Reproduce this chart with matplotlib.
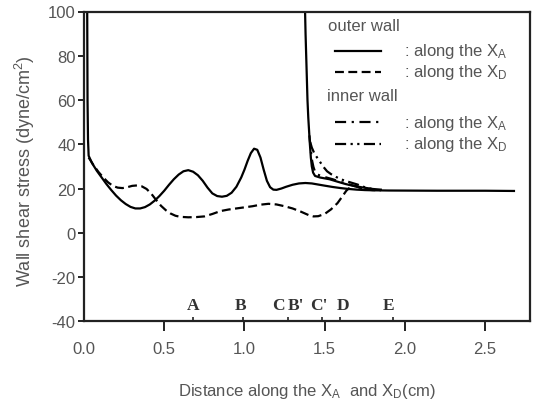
import matplotlib
matplotlib.use("Agg")
import matplotlib.pyplot as plt
from matplotlib.lines import Line2D

# ---------------- data ----------------
# outer wall, along X_A (solid)
outer_xa_x = [0.020, 0.022, 0.025, 0.029, 0.05, 0.08, 0.11, 0.14, 0.17, 0.2, 0.23, 0.26, 0.29,
              0.32, 0.35, 0.38, 0.41, 0.44, 0.47, 0.5, 0.53, 0.56, 0.59, 0.62, 0.65, 0.68,
              0.71, 0.74, 0.77, 0.8, 0.83, 0.86, 0.89, 0.92, 0.95, 0.98, 1.0, 1.02, 1.04,
              1.06, 1.08, 1.10, 1.12, 1.14, 1.16, 1.18, 1.2, 1.23, 1.26, 1.3, 1.34, 1.38,
              1.42, 1.46, 1.5, 1.55, 1.6, 1.65, 1.7, 1.75, 1.8, 1.9, 2.2, 2.5, 2.68]
outer_xa_y = [100, 60, 42, 34.8, 31.5, 28, 25, 22, 19.3, 16.8, 14.7, 13, 11.7,
              11, 11, 11.6, 12.8, 14.5, 16.6, 19, 21.7, 24.2, 26.3, 27.8, 28.3, 27.6,
              26, 23.5, 20.4, 17.8, 16.6, 16.3, 16.7, 18.1, 20.8, 25, 28.5, 32.5, 36,
              38, 37.5, 34, 28.5, 23.5, 20.6, 19.5, 19.4, 20, 20.8, 21.7, 22.3, 22.5,
              22.3, 21.8, 21.3, 20.7, 20.2, 19.8, 19.5, 19.3, 19.2, 19.1, 19.0, 19.0, 18.9]

# outer wall, along X_D (dashed)
outer_xd_x = [0.029, 0.06, 0.09, 0.12, 0.15, 0.18, 0.21, 0.24, 0.27, 0.3, 0.33, 0.36, 0.39,
              0.42, 0.45, 0.48, 0.51, 0.54, 0.57, 0.6, 0.65, 0.7, 0.75, 0.8, 0.85, 0.9,
              0.95, 1.0, 1.05, 1.1, 1.15, 1.2, 1.25, 1.3, 1.35, 1.4, 1.43, 1.46, 1.5,
              1.54, 1.58, 1.61, 1.635, 1.66, 1.69, 1.72, 1.76, 1.8, 1.85]
outer_xd_y = [34, 30.5, 27.5, 25, 22.8, 21.2, 20.4, 20.2, 20.6, 21.2, 21.4, 21, 19.8,
              17.6, 14.8, 12.2, 10.2, 8.7, 7.7, 7.2, 7, 7.1, 7.4, 8.5, 9.8, 10.5,
              11, 11.5, 12, 12.7, 13.1, 12.8, 12, 11, 9.6, 8, 7.4, 7.5, 8.5,
              10.6, 13.4, 16.4, 19, 20.6, 21.2, 20.3, 19.5, 19.3, 19.2]

# spike of the solid curve at the flow divider
apex_x = [1.378, 1.381, 1.385, 1.389, 1.393, 1.398, 1.403, 1.408, 1.414, 1.42, 1.428,
          1.44, 1.47, 1.53, 1.58, 1.632, 1.68, 1.736, 1.8, 1.85]
apex_y = [100, 90, 80, 70, 60, 52, 46, 40, 34, 30, 27.2,
          25.7, 25, 24.2, 23.1, 22.0, 21.2, 20.5, 19.8, 19.5]

# inner wall, along X_A (dash-dot)
inner_xa_x = [1.405, 1.41, 1.415, 1.422, 1.43, 1.44, 1.455, 1.5, 1.55, 1.6, 1.65, 1.705,
              1.75, 1.8]
inner_xa_y = [44, 40, 36.3, 32.5, 29.8, 27.6, 26.3, 25.2, 24.2, 23, 21.9, 20.8, 20, 19.5]

# inner wall, along X_D (dash-dot-dot)
inner_xd_x = [1.41, 1.42, 1.435, 1.45, 1.467, 1.49, 1.515, 1.54, 1.57, 1.6, 1.65, 1.705,
              1.75, 1.8]
inner_xd_y = [41, 38.5, 36, 34.3, 32.5, 30, 27.8, 26.5, 25.3, 24.2, 23, 21.8, 20.6, 19.7]

# section markers
marker_labels = ["A", "B", "C", "B'", "C'", "D", "E"]
marker_label_x = [0.681, 0.975, 1.212, 1.322, 1.467, 1.612, 1.901]
marker_tick_x = [0.681, 0.991, 1.27, 1.484, 1.597, 1.926]

x_ticks = [0.0, 0.5, 1.0, 1.5, 2.0, 2.5]
x_ticklabels = ["0.0", "0.5", "1.0", "1.5", "2.0", "2.5"]
y_ticks = [-40, -20, 0, 20, 40, 60, 80, 100]
y_ticklabels = ["-40", "-20", "0", "20", "40", "60", "80", "100"]

legend_header = ["outer wall", "inner wall"]
legend_labels = [": along the $\\mathregular{X_A}$", ": along the $\\mathregular{X_D}$",
                 ": along the $\\mathregular{X_A}$", ": along the $\\mathregular{X_D}$"]

# ---------------- styling ----------------
plt.rcParams['font.family'] = ['Liberation Sans', 'DejaVu Sans']
TXT = '#555555'
LW = 1.6
ls_solid = '-'
ls_dash = (0, (4, 2))
ls_dashdot = (0, (5, 2.5, 1, 2.5))
ls_dashdotdot = (0, (5, 2, 1, 2, 1, 2))

fig = plt.figure(figsize=(5.34, 4.06), dpi=100)
W, H = 534, 406
ax = fig.add_axes([84 / W, 1 - 322.3 / H, (530 - 84) / W, (322.3 - 12.5) / H])

ax.plot(outer_xa_x, outer_xa_y, color='black', lw=LW, ls=ls_solid)
ax.plot(apex_x, apex_y, color='black', lw=LW, ls=ls_solid)
ax.plot(outer_xd_x, outer_xd_y, color='black', lw=LW, ls=ls_dash)
ax.plot(inner_xa_x, inner_xa_y, color='black', lw=LW, ls=ls_dashdot)
ax.plot(inner_xd_x, inner_xd_y, color='black', lw=LW, ls=ls_dashdotdot)

ax.set_xlim(0.0, 2.78)
ax.set_ylim(-40, 100)

for s in ax.spines.values():
    s.set_linewidth(1.6)
    s.set_color('#222222')

ax.set_xticks(x_ticks)
ax.set_xticklabels(x_ticklabels)
ax.set_yticks(y_ticks)
ax.set_yticklabels(y_ticklabels)
ax.tick_params(axis='x', direction='out', length=7, width=1.4, pad=7,
               labelsize=12, labelcolor=TXT, color='#222222')
ax.tick_params(axis='y', direction='out', length=4, width=1.4, pad=2,
               labelsize=12, labelcolor=TXT, color='#222222')
ax.xaxis.get_major_ticks()[0].tick1line.set_visible(False)

ax.set_xticks(marker_tick_x, minor=True)
ax.tick_params(axis='x', which='minor', direction='in', length=3, width=1.2,
               color='#222222')

for lab, xv in zip(marker_labels, marker_label_x):
    ax.text(xv, -32.5, lab, ha='center', va='center', fontsize=12.5,
            family='Liberation Serif', fontweight='bold', color='#333333')

ax.set_xlabel("Distance along the $\\mathregular{X_A}$  and $\\mathregular{X_D}$(cm)",
              fontsize=12, color=TXT, labelpad=18)
ax.set_ylabel("Wall shear stress (dyne/cm$\\mathregular{^2}$)", fontsize=13,
              color=TXT)
ax.yaxis.set_label_coords(-0.105, 0.487)

# ---------------- legend drawn as text block ----------------
def ax_pt(px, py):
    return ((px - 84) / 446, (322.3 - py) / 309.8)

hx, hy = ax_pt(328.3, 26.7)
ax.text(hx, hy, legend_header[0], transform=ax.transAxes, fontsize=12,
        color=TXT, va='center', ha='left')
hx, hy = ax_pt(326.7, 96.7)
ax.text(hx, hy, legend_header[1], transform=ax.transAxes, fontsize=12,
        color=TXT, va='center', ha='left')

rows_y = [51.7, 72.7, 123.3, 145.0]
row_styles = [ls_solid, ls_dash, ls_dashdot, ls_dashdotdot]
for py, ls, lab in zip(rows_y, row_styles, legend_labels):
    x0, yy = ax_pt(335, py)
    x1, _ = ax_pt(381, py)
    ax.add_line(Line2D([x0, x1], [yy, yy], transform=ax.transAxes,
                       color='black', lw=LW, ls=ls))
    tx, _ = ax_pt(404, py)
    ax.text(tx, yy, lab, transform=ax.transAxes, fontsize=12, color=TXT,
            va='center', ha='left')

fig.savefig("out.png", dpi=100)
